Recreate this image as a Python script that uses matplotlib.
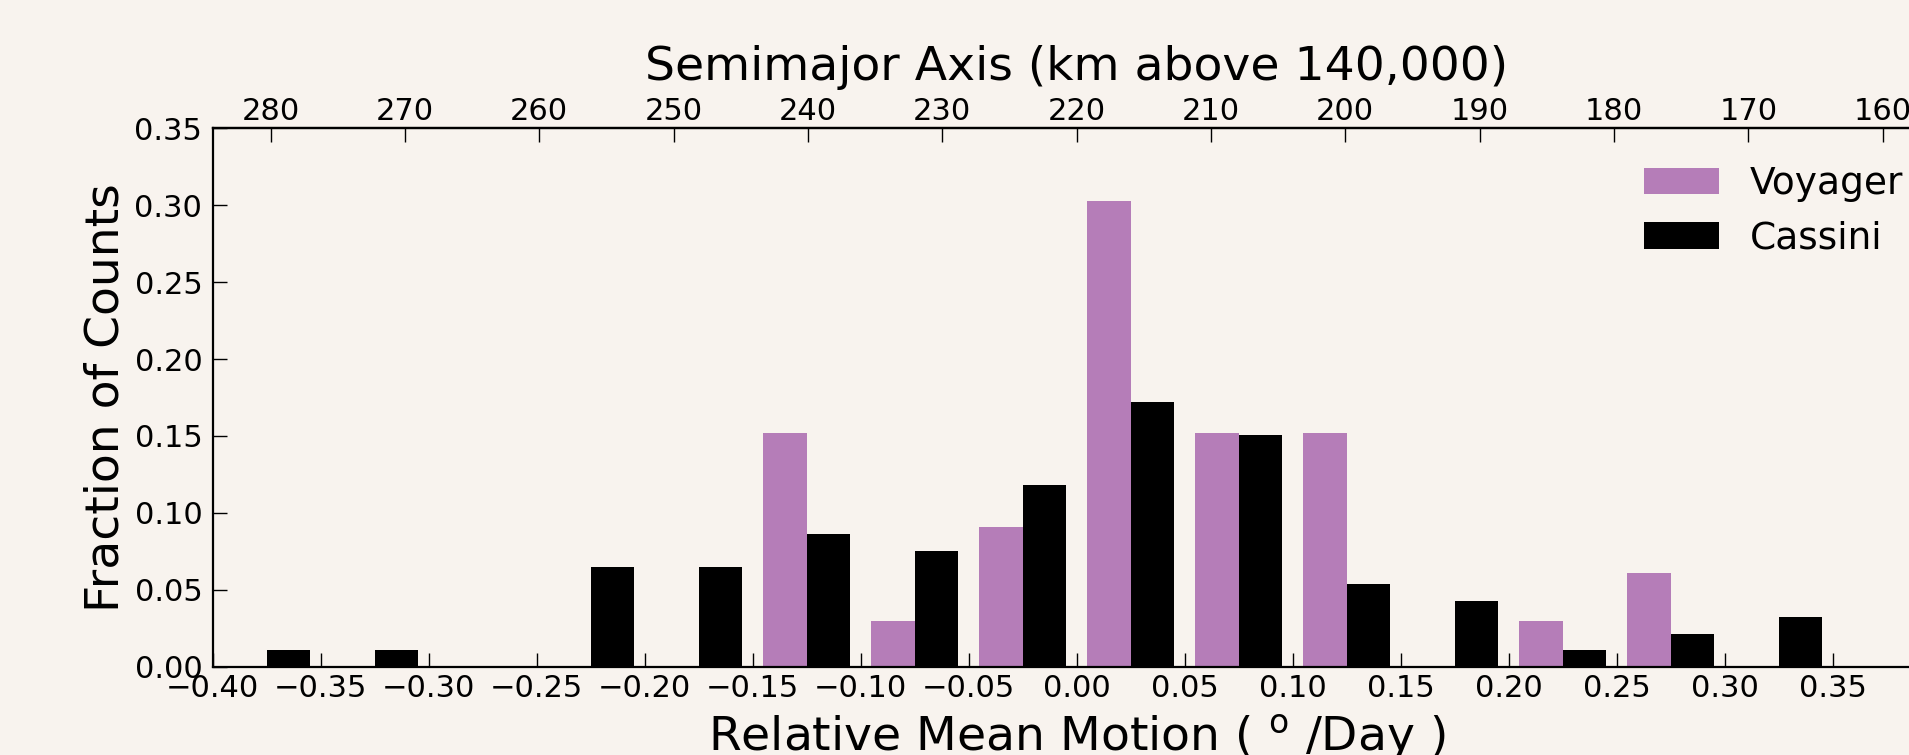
import numpy as np
import matplotlib
matplotlib.use("Agg")
import matplotlib.pyplot as plt

# histogram bins in relative mean motion (deg/day)
bin_edges = [-0.40, -0.35, -0.30, -0.25, -0.20, -0.15, -0.10, -0.05,
             0.00, 0.05, 0.10, 0.15, 0.20, 0.25, 0.30, 0.35, 0.40]

voyager_frac = [0.0, 0.0, 0.0, 0.0, 0.0, 0.152, 0.030, 0.091,
                0.303, 0.152, 0.152, 0.0, 0.030, 0.061, 0.0, 0.0]
cassini_frac = [0.0107, 0.0107, 0.0, 0.0645, 0.0645, 0.086, 0.0753, 0.1183,
                0.172, 0.1505, 0.0538, 0.043, 0.0107, 0.0215, 0.0323, 0.0]

n_ticks = [-0.40, -0.35, -0.30, -0.25, -0.20, -0.15, -0.10, -0.05,
           0.00, 0.05, 0.10, 0.15, 0.20, 0.25, 0.30, 0.35]
frac_ticks = [0.00, 0.05, 0.10, 0.15, 0.20, 0.25, 0.30, 0.35]
km_ticks = [280, 270, 260, 250, 240, 230, 220, 210, 200, 190, 180, 170, 160]

bg = "#f8f3ee"
purple = "#b57db8"

# dn/da near 140,220 km (deg/day per km)
dn_da = -0.00622


def n_to_a(n):
    return 220 + np.asarray(n) / dn_da


def a_to_n(a):
    return (np.asarray(a) - 220) * dn_da


def fmt(v, pos):
    s = "%.2f" % v
    if s == "-0.00":
        s = "0.00"
    return s.replace("-", "\u2212")


fig = plt.figure(figsize=(19.09, 7.55), dpi=100)
fig.patch.set_facecolor(bg)
ax = fig.add_axes([212.7/1909, 1 - 666.7/755, (1940.5 - 212.7)/1909, (666.7 - 128.3)/755])
ax.set_facecolor(bg)

edges = np.array(bin_edges)
centers = 0.5*(edges[:-1] + edges[1:])
ax.hist([centers, centers], bins=edges, weights=[voyager_frac, cassini_frac],
        color=[purple, "black"], label=["Voyager", "Cassini"], histtype="bar")

ax.set_xlim(-0.4, 0.4)
ax.set_ylim(0, 0.35)
ax.set_xticks(n_ticks)
ax.set_yticks(frac_ticks)
ax.xaxis.set_major_formatter(matplotlib.ticker.FuncFormatter(fmt))
ax.yaxis.set_major_formatter(matplotlib.ticker.FuncFormatter(fmt))
ax.tick_params(axis="x", direction="in", length=10, width=1, labelsize=22, pad=5, top=False)
ax.tick_params(axis="y", direction="in", length=10, width=1, labelsize=22, pad=7.5, right=False)
for s in ax.spines.values():
    s.set_linewidth(1.6)

ax.set_xlabel(r"Relative Mean Motion ( $^{\mathrm{o}}$ /Day )", fontsize=34, labelpad=7)
ax.set_ylabel("Fraction of Counts", fontsize=34, labelpad=4)

secax = ax.secondary_xaxis("top", functions=(n_to_a, a_to_n))
secax.set_xticks(km_ticks)
secax.tick_params(direction="in", length=10, width=1, labelsize=22, pad=2)
secax.spines["top"].set_linewidth(1.6)
secax.set_xlabel("Semimajor Axis (km above 140,000)", fontsize=34, labelpad=12)

ax.legend(loc="upper right", frameon=False, fontsize=27, labelspacing=0.5,
          borderaxespad=0.6)

fig.savefig("out.png", dpi=100, facecolor=bg)
